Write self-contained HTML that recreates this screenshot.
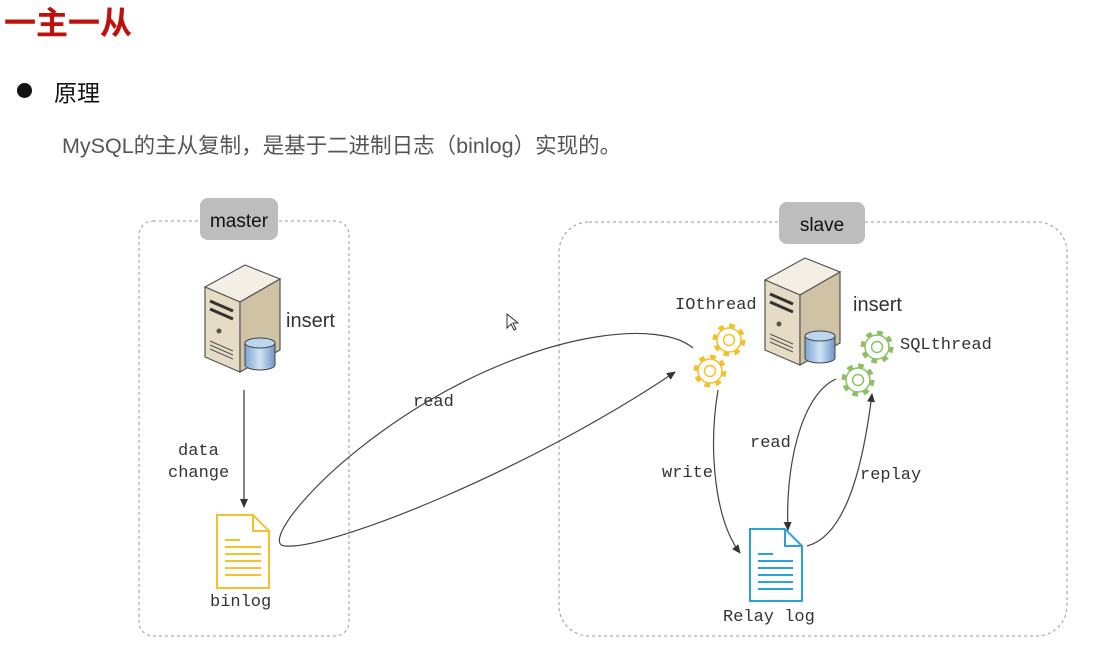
<!DOCTYPE html>
<html><head><meta charset="utf-8"><style>
html,body{margin:0;padding:0;background:#fff;}
body{width:1107px;height:659px;overflow:hidden;position:relative;font-family:"Liberation Sans","Noto Sans CJK SC",sans-serif;}
.t{position:absolute;white-space:nowrap;}
</style></head><body>
<div class="t" style="left:4px;top:-2px;font-size:32px;font-weight:bold;color:#c0100c;">一主一从</div>
<div class="t" style="left:17px;top:83px;width:15px;height:15px;border-radius:50%;background:#111;"></div>
<div class="t" style="left:54px;top:74px;font-size:23px;color:#111;">原理</div>
<div class="t" style="left:62px;top:129px;font-size:21.5px;color:#555;">MySQL的主从复制，是基于二进制日志（binlog）实现的。</div>
<svg width="1107" height="659" style="position:absolute;left:0;top:0" xmlns="http://www.w3.org/2000/svg">
<defs>
<linearGradient id="gc" x1="0" x2="1"><stop offset="0" stop-color="#7aa6d3"/><stop offset="0.5" stop-color="#cfe3f5"/><stop offset="1" stop-color="#6d98c8"/></linearGradient>
<marker id="ar" markerWidth="10" markerHeight="10" refX="8" refY="5" orient="auto" markerUnits="userSpaceOnUse"><path d="M0,1 L9,5 L0,9z" fill="#333"/></marker>
<g id="srv">
<polygon points="0,22 40,0 75,14 35,37" fill="#f4efe4" stroke="#555" stroke-width="1.2"/>
<polygon points="0,22 35,37 35,107 0,92" fill="#e6dcc6" stroke="#555" stroke-width="1.2"/>
<polygon points="35,37 75,14 75,85 35,107" fill="#cfc2a5" stroke="#555" stroke-width="1.2"/>
<path d="M5,36 L28,46 M5,44 L28,54" stroke="#333" stroke-width="3"/>
<circle cx="14" cy="66" r="2.5" fill="#555"/>
<path d="M5,76 L28,86 M5,80 L28,90 M5,84 L28,94" stroke="#555" stroke-width="1"/>
<path d="M40,78 L40,100 A15,5 0 0 0 70,100 L70,78" fill="url(#gc)" stroke="#444" stroke-width="1"/>
<ellipse cx="55" cy="78" rx="15" ry="5" fill="#bcd6ef" stroke="#444" stroke-width="1"/>
</g>
<g id="gear">
<circle r="14" fill="none" stroke-width="5" stroke-dasharray="5.5 5.5"/>
<circle r="12" fill="#fff" stroke-width="1.5"/>
<circle r="5.5" fill="none" stroke-width="1.5"/>
</g>
</defs>
<rect x="139" y="221" width="210" height="415" rx="14" fill="none" stroke="#999" stroke-dasharray="3 3"/>
<rect x="559" y="222" width="508" height="414" rx="30" fill="none" stroke="#999" stroke-dasharray="3 3"/>
<rect x="200" y="198" width="78" height="42" rx="8" fill="#bdbdbd"/>
<text x="239" y="227" font-size="19" text-anchor="middle" font-family="Liberation Sans" fill="#111">master</text>
<rect x="779" y="202" width="86" height="42" rx="8" fill="#bdbdbd"/>
<text x="822" y="231" font-size="19" text-anchor="middle" font-family="Liberation Sans" fill="#111">slave</text>
<use href="#srv" x="205" y="265"/>
<use href="#srv" x="765" y="258"/>
<g font-family="Liberation Sans" font-size="20" fill="#333"><text x="286" y="327">insert</text><text x="853" y="311">insert</text></g>
<g font-family="Liberation Mono" font-size="17" fill="#333">
<text x="178" y="455">data</text><text x="168" y="477">change</text>
<text x="210" y="606">binlog</text>
<text x="413" y="406">read</text>
<text x="675" y="309">IOthread</text>
<text x="900" y="349">SQLthread</text>
<text x="662" y="477">write</text>
<text x="750" y="447">read</text>
<text x="860" y="479">replay</text>
<text x="723" y="621">Relay log</text>
</g>
<line x1="244" y1="390" x2="244" y2="507" stroke="#333" stroke-width="1.2" marker-end="url(#ar)"/>
<g fill="none" stroke="#f2c12e" stroke-width="2">
<path d="M217,515 L253,515 L269,531 L269,588 L217,588 Z M253,515 L253,531 L269,531"/>
<path d="M225,540 L240,540 M225,547 L261,547 M225,554 L261,554 M225,561 L261,561 M225,568 L261,568 M225,575 L261,575"/>
</g>
<g fill="none" stroke="#2aa2d9" stroke-width="2">
<path d="M750,529 L785,529 L802,546 L802,601 L750,601 Z M785,529 L785,546 L802,546"/>
<path d="M758,554 L773,554 M758,561 L793,561 M758,568 L793,568 M758,575 L793,575 M758,582 L793,582 M758,589 L793,589"/>
</g>
<path d="M693,348 C660,320 550,330 430,400 C320,465 260,545 285,546 C330,550 530,470 675,372" fill="none" stroke="#444" stroke-width="1.2" marker-end="url(#ar)"/>
<path d="M718,390 C708,450 715,520 740,553" fill="none" stroke="#444" stroke-width="1.2" marker-end="url(#ar)"/>
<path d="M836,379 C800,395 785,470 788,530" fill="none" stroke="#444" stroke-width="1.2" marker-end="url(#ar)"/>
<path d="M807,546 C850,535 865,450 872,394" fill="none" stroke="#444" stroke-width="1.2" marker-end="url(#ar)"/>
<use href="#gear" x="729" y="340" stroke="#f2c12e"/>
<use href="#gear" x="710" y="371" stroke="#f2c12e"/>
<use href="#gear" x="877" y="347" stroke="#8cc063"/>
<use href="#gear" x="858" y="380" stroke="#8cc063"/>
<path d="M507,314 L507,328 L511,324 L514,330 L516,329 L513,323 L518,323 Z" fill="#fff" stroke="#333" stroke-width="1"/>
</svg>
</body></html>
